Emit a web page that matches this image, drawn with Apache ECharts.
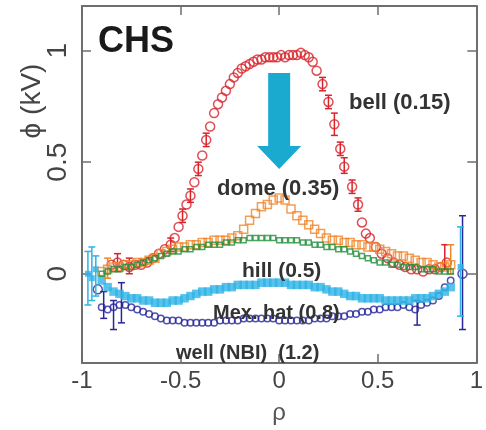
<!DOCTYPE html>
<html><head><meta charset="utf-8">
<script src="https://cdn.jsdelivr.net/npm/echarts@6/dist/echarts.min.js"></script>
<style>html,body{margin:0;padding:0;background:#fff}#c{width:486px;height:430px}</style>
</head><body><div id="c"></div>
<script>
// ---- data ----
const xTicks = [-1, -0.5, 0, 0.5, 1];
const yTicks = [0, 0.5, 1];

const bellRho = [-0.85,-0.82,-0.79,-0.76,-0.73,-0.70,-0.67,-0.64,-0.61,-0.58,-0.55,
  -0.53,-0.51,-0.49,-0.47,-0.45,-0.43,-0.41,-0.39,-0.37,-0.35,-0.33,-0.31,-0.29,-0.27,-0.25,-0.23,-0.21,-0.19,-0.17,-0.15,-0.13,-0.11,-0.09,-0.07,-0.05,-0.03,-0.01,0.01,0.03,0.05,0.07,0.09,0.11,0.13,0.15,0.17,0.19,
  0.22,0.25,0.28,0.31,0.33,0.37,0.40,0.42,0.44,0.46,0.49,
  0.52,0.55,0.58,0.61,0.64,0.67,0.70,0.73,0.76,0.79,0.82,0.85];
const bellPhi = [0.04,0.05,0.04,0.03,0.04,0.04,0.05,0.07,0.09,0.11,0.13,
  0.16,0.21,0.26,0.31,0.35,0.41,0.47,0.53,0.60,0.66,0.72,0.76,0.79,0.82,0.85,0.88,0.90,0.92,0.93,0.94,0.95,0.96,0.96,0.97,0.97,0.97,0.97,0.98,0.97,0.98,0.98,0.98,0.99,0.98,0.97,0.95,0.91,
  0.85,0.77,0.67,0.56,0.48,0.39,0.31,0.23,0.18,0.16,0.12,
  0.09,0.07,0.05,0.04,0.03,0.02,0.02,0.01,0.02,0.02,0.03,0.05];

const rhoGrid = [-0.90,-0.87,-0.84,-0.81,-0.78,-0.75,-0.72,-0.69,-0.66,-0.63,
  -0.60,-0.57,-0.54,-0.51,-0.48,-0.45,-0.42,-0.39,-0.36,-0.33,
  -0.30,-0.27,-0.24,-0.21,-0.18,-0.15,-0.12,-0.09,-0.06,-0.03,
  0.00,0.03,0.06,0.09,0.12,0.15,0.18,0.21,0.24,0.27,
  0.30,0.33,0.36,0.39,0.42,0.45,0.48,0.51,0.54,0.57,
  0.60,0.63,0.66,0.69,0.72,0.75,0.78,0.81,0.84,0.87];
const domePhi = [0.01,0.02,0.03,0.03,0.04,0.04,0.05,0.05,0.06,0.07,
  0.09,0.10,0.11,0.12,0.12,0.13,0.13,0.14,0.14,0.15,
  0.15,0.15,0.16,0.17,0.20,0.24,0.27,0.30,0.31,0.33,
  0.34,0.33,0.29,0.26,0.24,0.22,0.20,0.18,0.16,0.15,
  0.15,0.14,0.14,0.13,0.13,0.12,0.12,0.11,0.10,0.09,
  0.08,0.08,0.07,0.06,0.05,0.05,0.04,0.03,0.03,0.04];
const hillPhi = [0.00,0.01,0.02,0.02,0.03,0.03,0.04,0.05,0.06,0.07,
  0.08,0.09,0.10,0.10,0.11,0.11,0.12,0.12,0.13,0.13,
  0.13,0.14,0.14,0.15,0.15,0.16,0.16,0.16,0.16,0.16,
  0.15,0.15,0.15,0.15,0.14,0.14,0.13,0.13,0.12,0.12,
  0.11,0.11,0.10,0.09,0.08,0.07,0.06,0.05,0.05,0.04,
  0.04,0.03,0.03,0.03,0.02,0.02,0.02,0.01,0.01,0.01];
const mexPhi = [-0.03,-0.06,-0.08,-0.09,-0.10,-0.11,-0.11,-0.12,-0.12,-0.13,
  -0.13,-0.13,-0.12,-0.12,-0.11,-0.10,-0.09,-0.08,-0.08,-0.07,
  -0.07,-0.06,-0.06,-0.05,-0.05,-0.05,-0.05,-0.04,-0.04,-0.04,
  -0.04,-0.04,-0.05,-0.05,-0.05,-0.05,-0.06,-0.06,-0.07,-0.08,
  -0.08,-0.09,-0.10,-0.10,-0.11,-0.11,-0.11,-0.11,-0.12,-0.12,
  -0.12,-0.12,-0.12,-0.11,-0.11,-0.11,-0.10,-0.09,-0.08,-0.06];
const wellPhi = [-0.15,-0.16,-0.15,-0.14,-0.14,-0.15,-0.16,-0.17,-0.18,-0.19,
  -0.20,-0.21,-0.21,-0.21,-0.22,-0.22,-0.22,-0.22,-0.22,-0.22,
  -0.21,-0.21,-0.21,-0.21,-0.20,-0.20,-0.20,-0.20,-0.20,-0.20,
  -0.21,-0.21,-0.21,-0.21,-0.21,-0.21,-0.20,-0.20,-0.20,-0.19,
  -0.19,-0.19,-0.18,-0.18,-0.17,-0.17,-0.16,-0.16,-0.15,-0.15,
  -0.15,-0.14,-0.15,-0.16,-0.14,-0.13,-0.12,-0.10,-0.06,-0.03];

// edge points with large error bars
const mexEdgeRho = [-0.97,-0.95,-0.93,0.92];
const mexEdgePhi = [0.00,-0.02,0.02,0.03];
const wellEdgeRho = [-0.92,0.93];
const wellEdgePhi = [-0.07,0.00];

// error bars [rho, low, high]
const bellErr = [[-0.82,0.01,0.09],[-0.76,0.00,0.07],[-0.55,0.10,0.16],[-0.49,0.23,0.29],[-0.45,0.32,0.38],
  [-0.41,0.44,0.50],[-0.37,0.57,0.63],[0.22,0.82,0.88],[0.25,0.74,0.80],[0.28,0.62,0.72],[0.31,0.53,0.59],
  [0.33,0.45,0.52],[0.37,0.36,0.42],[0.40,0.28,0.34],[0.84,0.02,0.13]];
const domeErr = [[-0.87,-0.02,0.07],[0.87,0.00,0.13]];
const mexErr = [[-0.97,-0.14,0.10],[-0.95,-0.12,0.12],[-0.93,-0.10,0.08],[0.92,-0.19,0.21]];
const wellErr = [[-0.89,-0.20,-0.08],[-0.84,-0.25,-0.12],[-0.80,-0.22,-0.04],[0.70,-0.23,-0.12],[0.93,-0.25,0.26]];

// arrow [rho, phiStart, phiEnd]
const arrow = [[0.0, 0.90, 0.47]];

// ---- chart ----
const zip = (a, b) => a.map((v, i) => [v, b[i]]);
const RED = '#d8232a', ORANGE = '#f0862a', GREEN = '#1f8f3a', CYAN = '#2db3e6', NAVY = '#27279a';

function errSeries(data, color, z) {
  return {
    type: 'custom', data: data, z: z, silent: true,
    encode: { x: 0, y: [1, 2] },
    renderItem: function (params, api) {
      const x = api.value(0), lo = api.value(1), hi = api.value(2);
      const a = api.coord([x, lo]), b = api.coord([x, hi]);
      const w = 3.5;
      const st = { stroke: color, lineWidth: 1.5 };
      return { type: 'group', children: [
        { type: 'line', shape: { x1: a[0], y1: a[1], x2: b[0], y2: b[1] }, style: st },
        { type: 'line', shape: { x1: a[0] - w, y1: a[1], x2: a[0] + w, y2: a[1] }, style: st },
        { type: 'line', shape: { x1: b[0] - w, y1: b[1], x2: b[0] + w, y2: b[1] }, style: st }
      ]};
    }
  };
}

const axisCommon = {
  axisLine: { show: true, onZero: false, lineStyle: { color: '#6e6e6e', width: 2 } },
  axisTick: { show: true, inside: true, length: 9, lineStyle: { color: '#6e6e6e', width: 1.5 } },
  splitLine: { show: false }
};

const chart = echarts.init(document.getElementById('c'), null, { renderer: 'canvas' });
chart.setOption({
  animation: false,
  backgroundColor: '#fff',
  grid: { left: 82, right: 1, top: 6, bottom: 57, containLabel: false },
  xAxis: [
    Object.assign({}, axisCommon, {
      type: 'value', min: -1, max: 1, interval: 0.5, position: 'bottom',
      name: 'ρ', nameLocation: 'middle', nameGap: 38,
      nameTextStyle: { fontSize: 24, color: '#555', fontFamily: 'Liberation Sans' },
      axisLabel: { fontSize: 24, color: '#444', margin: 6, fontFamily: 'Liberation Sans',
        formatter: v => xTicks.includes(v) ? String(v) : '' }
    }),
    Object.assign({}, axisCommon, {
      type: 'value', min: -1, max: 1, interval: 0.5, position: 'top', axisLabel: { show: false }
    })
  ],
  yAxis: [
    Object.assign({}, axisCommon, {
      type: 'value', min: -0.4, max: 1.2, position: 'left',
      axisTick: Object.assign({}, axisCommon.axisTick, { customValues: yTicks }),
      axisLabel: { fontSize: 28, color: '#444', rotate: 90, margin: 10, fontFamily: 'Liberation Sans',
        customValues: yTicks, formatter: v => String(v) }
    }),
    Object.assign({}, axisCommon, {
      type: 'value', min: -0.4, max: 1.2, position: 'right',
      axisTick: Object.assign({}, axisCommon.axisTick, { customValues: yTicks }),
      axisLabel: { show: false }
    })
  ],
  graphic: [
    { type: 'text', left: 98, top: 24, style: { text: 'CHS', font: 'bold 36px "Liberation Sans"', fill: '#1a1a1a' }, z: 100 },
    { type: 'text', x: 32, y: 101, rotation: Math.PI / 2,
      style: { text: 'ϕ (kV)', font: '28px "Liberation Sans"', fill: '#444', textAlign: 'center', textVerticalAlign: 'middle' }, z: 100 },
    { type: 'text', x: 349, y: 103, style: { text: 'bell (0.15)', font: 'bold 22px "Liberation Sans"', fill: '#333', textVerticalAlign: 'middle' }, z: 100 },
    { type: 'text', x: 217, y: 189, style: { text: 'dome (0.35)', font: 'bold 22px "Liberation Sans"', fill: '#333', textVerticalAlign: 'middle' }, z: 100 },
    { type: 'text', x: 242, y: 271, style: { text: 'hill (0.5)', font: 'bold 21px "Liberation Sans"', fill: '#333', textVerticalAlign: 'middle' }, z: 100 },
    { type: 'text', x: 213, y: 313, style: { text: 'Mex. hat (0.8)', font: 'bold 20px "Liberation Sans"', fill: '#333', textVerticalAlign: 'middle' }, z: 100 },
    { type: 'text', x: 176, y: 353, style: { text: 'well (NBI)  (1.2)', font: 'bold 20px "Liberation Sans"', fill: '#333', textVerticalAlign: 'middle' }, z: 100 }
  ],
  series: [
    errSeries(wellErr, NAVY, 2),
    { type: 'scatter', z: 2, data: zip(rhoGrid, wellPhi), symbol: 'circle', symbolSize: 6.5,
      itemStyle: { color: 'rgba(0,0,0,0)', borderColor: NAVY, borderWidth: 1.5 } },
    { type: 'scatter', z: 2, data: zip(wellEdgeRho, wellEdgePhi), symbol: 'circle', symbolSize: 9,
      itemStyle: { color: 'rgba(0,0,0,0)', borderColor: NAVY, borderWidth: 1.5 } },
    errSeries(mexErr, CYAN, 3),
    { type: 'scatter', z: 3, data: zip(rhoGrid, mexPhi), symbol: 'rect', symbolSize: 8.5,
      itemStyle: { color: CYAN } },
    { type: 'scatter', z: 3, data: zip(mexEdgeRho, mexEdgePhi), symbol: 'rect', symbolSize: 6,
      itemStyle: { color: CYAN } },
    errSeries(bellErr, RED, 4),
    { type: 'scatter', z: 4, data: zip(bellRho, bellPhi), symbol: 'circle', symbolSize: 9,
      itemStyle: { color: 'rgba(0,0,0,0)', borderColor: RED, borderWidth: 1.5 } },
    errSeries(domeErr, ORANGE, 5),
    { type: 'scatter', z: 5, data: zip(rhoGrid, domePhi), symbol: 'rect', symbolSize: 8,
      itemStyle: { color: 'rgba(0,0,0,0)', borderColor: ORANGE, borderWidth: 1.5 } },
    { type: 'scatter', z: 6, data: zip(rhoGrid, hillPhi), symbol: 'rect', symbolSize: 5,
      itemStyle: { color: 'rgba(0,0,0,0)', borderColor: GREEN, borderWidth: 1.5 } },
    { type: 'custom', z: 7, data: arrow, silent: true, encode: { x: 0, y: [1, 2] },
      renderItem: function (params, api) {
        const top = api.coord([api.value(0), api.value(1)]);
        const tip = api.coord([api.value(0), api.value(2)]);
        const cx = top[0], sh = 11, hh = 22, hl = 23;
        const hy = tip[1] - hl;
        return { type: 'polygon', shape: { points: [
          [cx - sh, top[1]], [cx + sh, top[1]], [cx + sh, hy], [cx + hh, hy],
          [cx, tip[1]], [cx - hh, hy], [cx - sh, hy]] },
          style: { fill: '#1aaad0' } };
      } }
  ]
});
</script></body></html>
